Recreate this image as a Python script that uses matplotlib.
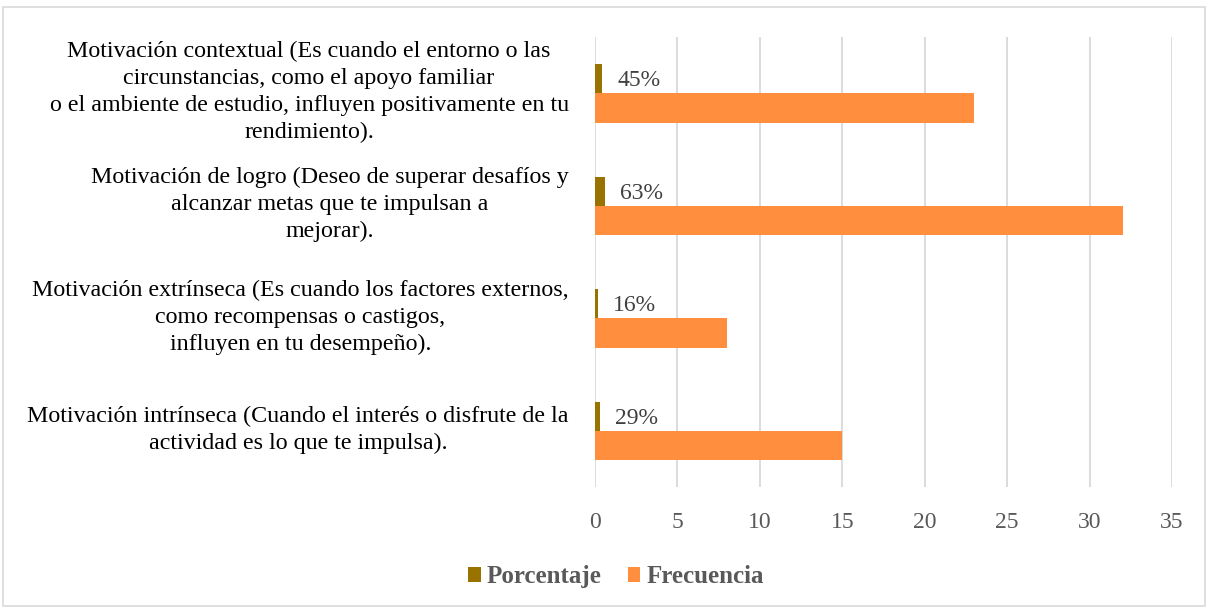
import matplotlib.pyplot as plt
import numpy as np
from matplotlib.patches import Rectangle

plt.rcParams['font.family'] = ['Liberation Serif', 'DejaVu Serif']

# Categories from bottom to top (Excel order)
categorias = [
    "Motivación intrínseca (Cuando el interés o disfrute de la\nactividad es lo que te impulsa).",
    "Motivación extrínseca (Es cuando los factores externos,\ncomo recompensas o castigos,\ninfluyen en tu desempeño).",
    "Motivación de logro (Deseo de superar desafíos y\nalcanzar metas que te impulsan a\nmejorar).",
    "Motivación contextual (Es cuando el entorno o las\ncircunstancias, como el apoyo familiar\no el ambiente de estudio, influyen positivamente en tu\nrendimiento).",
]
porcentaje = [0.29, 0.16, 0.63, 0.45]
frecuencia = [15, 8, 32, 23]
ticks_x = [0, 5, 10, 15, 20, 25, 30, 35]

color_pct = '#997300'
color_frec = '#ff8f3e'

fig = plt.figure(figsize=(12.08, 6.08), dpi=100)
fig.patches.append(Rectangle((0.0025, 0.003), 0.995, 0.985, transform=fig.transFigure,
                             fill=False, edgecolor='#d9d9d9', linewidth=1.2))
ax = fig.add_axes([0.4926, 0.199, 0.4776, 0.74])

y = np.arange(len(categorias))
h = 0.26
ax.barh(y + h / 2, porcentaje, height=h, color=color_pct, label='Porcentaje', zorder=3)
ax.barh(y - h / 2, frecuencia, height=h, color=color_frec, label='Frecuencia', zorder=3)

for yi, p in zip(y, porcentaje):
    ax.text(p + 0.9, yi + h / 2 - 0.02, f"{round(p * 100)}%", va='center', ha='left',
            fontsize=17, color='#404040', zorder=4)

ax.set_xlim(0, 35)
ax.set_ylim(-0.5, len(categorias) - 0.5)
ax.set_xticks(ticks_x)
ax.set_xticklabels([str(t) for t in ticks_x], fontsize=17, color='#595959')
ax.tick_params(axis='x', length=0, pad=18)
ax.set_yticks([])
for s in ax.spines.values():
    s.set_visible(False)
ax.grid(axis='x', color='#d9d9d9', linewidth=1.3, zorder=0)

for yi, cat in zip(y, categorias):
    ax.text(-1.6, yi + 0.01, cat, ha='right', va='center', multialignment='center',
            fontsize=17.3, color='black', linespacing=1.38,
            transform=ax.transData, clip_on=False)

leg = fig.legend(loc='center', bbox_to_anchor=(0.51, 0.051), ncol=2, frameon=False,
                 handlelength=0.5, handleheight=0.5, handletextpad=0.25, columnspacing=1.05,
                 prop={'size': 18, 'weight': 'bold'})
for t in leg.get_texts():
    t.set_color('#595959')

fig.savefig('out.png', dpi=100)
